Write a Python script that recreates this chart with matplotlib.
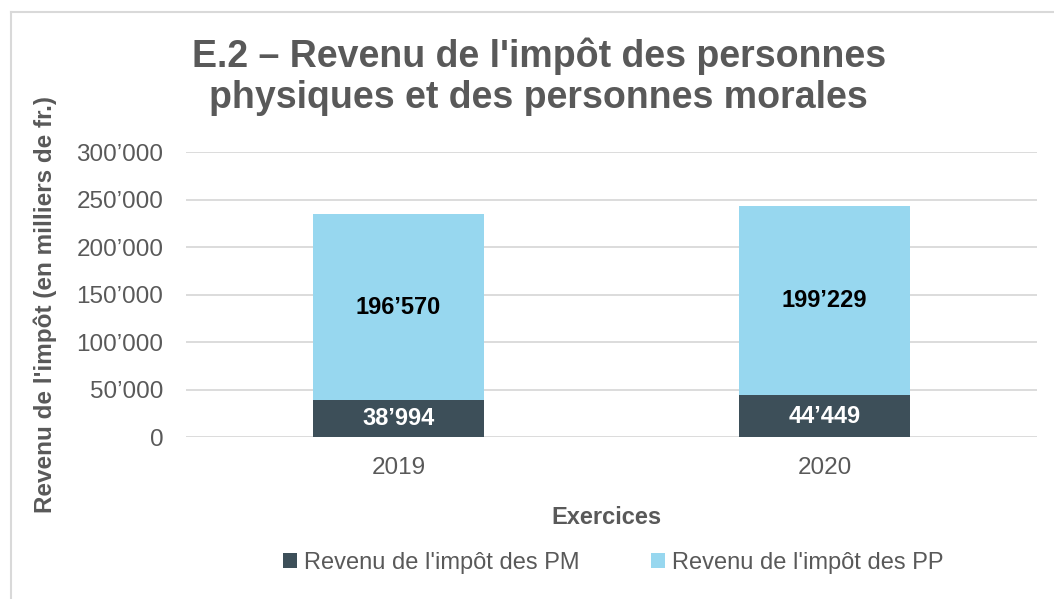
import matplotlib
matplotlib.use("Agg")
import matplotlib.pyplot as plt
from matplotlib.lines import Line2D
from matplotlib.ticker import FuncFormatter

plt.rcParams["font.family"] = ["Liberation Sans", "DejaVu Sans"]

# données
exercices = ["2019", "2020"]
impot_pm = [38994, 44449]
impot_pp = [196570, 199229]
y_ticks = [0, 50000, 100000, 150000, 200000, 250000, 300000]

col_pm = "#3d4f59"
col_pp = "#97d7ef"
gris = "#595959"


def fmt_milliers(v):
    return f"{int(v):,}".replace(",", "\u2019")


fig = plt.figure(figsize=(10.54, 5.99), dpi=100)
ax = fig.add_axes([0.176, 0.2697, 0.8083, 0.4758])

x = range(len(exercices))
b1 = ax.bar(x, impot_pm, width=0.4, color=col_pm, label="Revenu de l'impôt des PM", zorder=3)
b2 = ax.bar(x, impot_pp, width=0.4, bottom=impot_pm, color=col_pp,
            label="Revenu de l'impôt des PP", zorder=3)

# étiquettes de données
for i in x:
    ax.text(i, impot_pm[i] / 2, fmt_milliers(impot_pm[i]), ha="center", va="center",
            color="white", fontsize=17, fontweight="bold", zorder=4)
    ax.text(i, impot_pm[i] + impot_pp[i] / 2, fmt_milliers(impot_pp[i]), ha="center",
            va="center", color="black", fontsize=17, fontweight="bold", zorder=4)

ax.set_xlim(-0.5, 1.5)
ax.set_ylim(0, 300000)
ax.set_xticks(list(x))
ax.set_xticklabels(exercices)
ax.set_yticks(y_ticks)
ax.yaxis.set_major_formatter(FuncFormatter(lambda v, p: fmt_milliers(v)))
ax.tick_params(axis="both", length=0, labelsize=17.5, labelcolor=gris)
ax.tick_params(axis="y", pad=16)
ax.tick_params(axis="x", pad=14)
ax.grid(axis="y", color="#d9d9d9", linewidth=1.3, zorder=0)
for s in ax.spines.values():
    s.set_visible(False)

ax.set_xlabel("Exercices", fontsize=17, fontweight="bold", color=gris)
ax.xaxis.set_label_coords(0.494, -0.24)
ax.set_ylabel("Revenu de l'impôt (en milliers de fr.)", fontsize=17.5, fontweight="bold",
              color=gris)
ax.yaxis.set_label_coords(-0.151, 0.465)

fig.text(0.511, 0.872, "E.2 – Revenu de l'impôt des personnes\nphysiques et des personnes morales",
         ha="center", va="center", fontsize=27, fontweight="bold", color=gris, linespacing=1.2)

leg = fig.legend(handles=[b1, b2], loc="center", bbox_to_anchor=(0.582, 0.06), ncol=2,
                 frameon=False, fontsize=17, handlelength=0.6, handleheight=0.6,
                 handletextpad=0.3, columnspacing=3.0)
for t in leg.get_texts():
    t.set_color(gris)

# cadre du graphique
fig.add_artist(Line2D([0.0104, 0.0104], [0.0, 0.98], transform=fig.transFigure,
                      color="#d9d9d9", linewidth=1.5))
fig.add_artist(Line2D([0.0104, 1.0], [0.98, 0.98], transform=fig.transFigure,
                      color="#d9d9d9", linewidth=1.5))

fig.savefig("out.png", dpi=100)
